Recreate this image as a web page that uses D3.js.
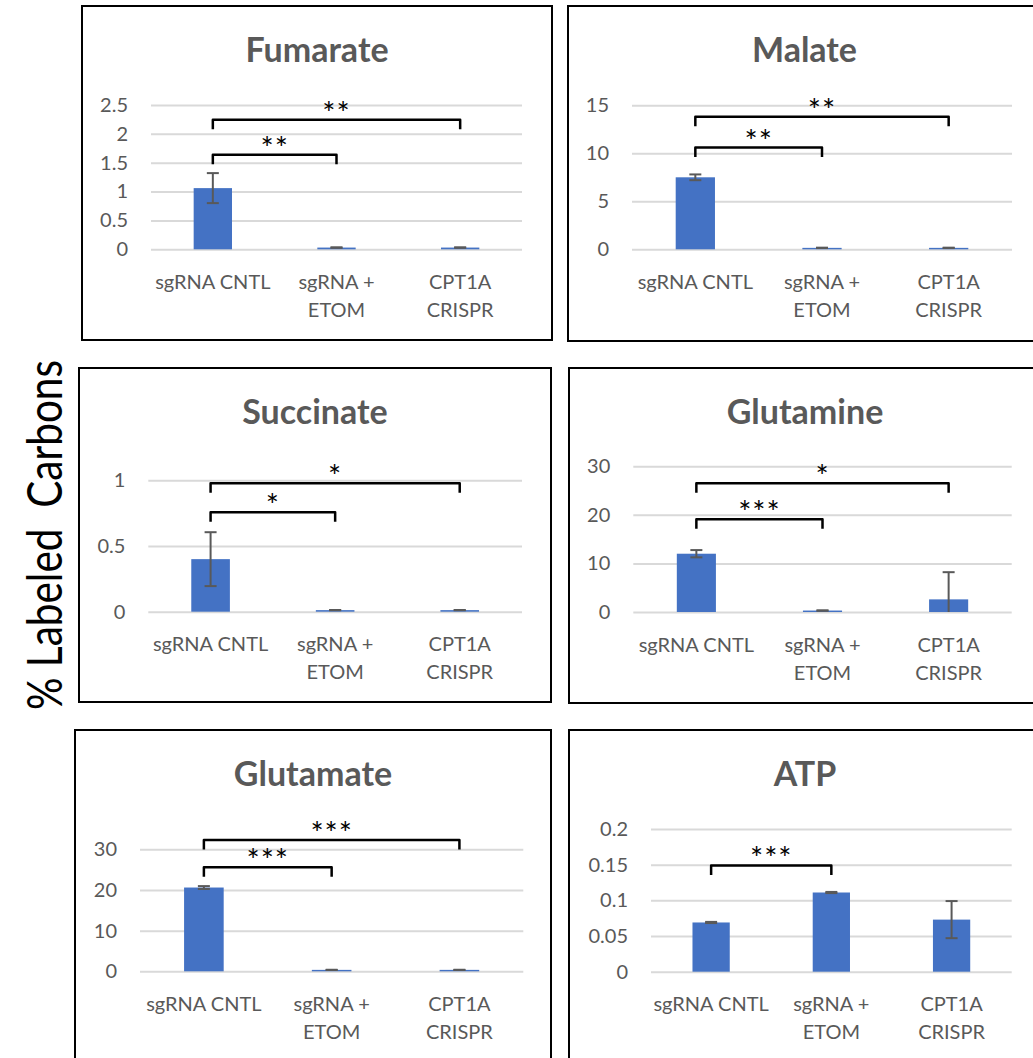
<!DOCTYPE html>
<html>
<head>
<meta charset="utf-8">
<script src="https://cdn.jsdelivr.net/npm/d3@7"></script>
<style>
  body { margin: 0; background: #fff; }
  svg { display: block; }
  text { font-family: Lato, "Open Sans", sans-serif; }
</style>
</head>
<body>
<svg id="chart" width="1033" height="1058"></svg>
<script>
// Groups on the x axis (each split over one or two lines)
const groups = ["sgRNA CNTL", "sgRNA + ETOM", "CPT1A CRISPR"];
const groupLines = [["sgRNA CNTL"], ["sgRNA +", "ETOM"], ["CPT1A", "CRISPR"]];

// Mean % labeled carbons and error for each metabolite
const fumarateMeans = [1.06, 0.03, 0.03];
const fumarateErrors = [0.26, 0.004, 0.004];
const malateMeans = [7.5, 0.15, 0.15];
const malateErrors = [0.3, 0.02, 0.02];
const succinateMeans = [0.40, 0.012, 0.012];
const succinateErrors = [0.205, 0.001, 0.001];
const glutamineMeans = [12.0, 0.3, 2.6];
const glutamineErrors = [0.75, 0.03, 5.6];
const glutamateMeans = [20.6, 0.35, 0.35];
const glutamateErrors = [0.35, 0.02, 0.02];
const atpMeans = [0.069, 0.111, 0.073];
const atpErrors = [0.0008, 0.0008, 0.026];

// Y tick values
const fumarateTicks = [0, 0.5, 1, 1.5, 2, 2.5];
const malateTicks = [0, 5, 10, 15];
const succinateTicks = [0, 0.5, 1];
const glutamineTicks = [0, 10, 20, 30];
const glutamateTicks = [0, 10, 20, 30];
const atpTicks = [0, 0.05, 0.1, 0.15, 0.2];

// Significance comparisons: [from group, to group, stars]
const fumarateSig = [[0, 1, "**"], [0, 2, "**"]];
const malateSig = [[0, 1, "**"], [0, 2, "**"]];
const succinateSig = [[0, 1, "*"], [0, 2, "*"]];
const glutamineSig = [[0, 1, "***"], [0, 2, "*"]];
const glutamateSig = [[0, 1, "***"], [0, 2, "***"]];
const atpSig = [[0, 1, "***"]];

// Panel layout: frame, plot area, axis max and bracket heights (axis units)
const panels = [
  { title: "Fumarate", means: fumarateMeans, errors: fumarateErrors, ticks: fumarateTicks, sig: fumarateSig,
    box: [82, 6, 552, 340], plot: [151, 105, 522, 249.3], yMax: 2.5, levels: [1.64, 2.245] },
  { title: "Malate", means: malateMeans, errors: malateErrors, ticks: malateTicks, sig: malateSig,
    box: [568, 6, 1041, 341], plot: [632, 105.3, 1012, 249.3], yMax: 15, levels: [10.6, 13.8] },
  { title: "Succinate", means: succinateMeans, errors: succinateErrors, ticks: succinateTicks, sig: succinateSig,
    box: [79, 368, 551, 702], plot: [148.3, 480.3, 522, 611.7], yMax: 1, levels: [0.756, 0.977] },
  { title: "Glutamine", means: glutamineMeans, errors: glutamineErrors, ticks: glutamineTicks, sig: glutamineSig,
    box: [569, 368, 1041, 703], plot: [633.3, 466.3, 1011.7, 612], yMax: 30, levels: [19.1, 26.5] },
  { title: "Glutamate", means: glutamateMeans, errors: glutamateErrors, ticks: glutamateTicks, sig: glutamateSig,
    box: [75, 730, 551, 1070], plot: [140, 849.3, 523.3, 971.3], yMax: 30, levels: [25.6, 32.3] },
  { title: "ATP", means: atpMeans, errors: atpErrors, ticks: atpTicks, sig: atpSig,
    box: [569, 730, 1041, 1070], plot: [651, 829, 1011.7, 971.7], yMax: 0.2, levels: [0.149] }
];

const BAR = "#4472C4";
const GRID = "#D9D9D9";
const TEXT = "#595959";

const svg = d3.select("#chart");

panels.forEach(p => {
  const g = svg.append("g");
  const [bx0, by0, bx1, by1] = p.box;
  const [px0, py0, px1, py1] = p.plot;

  // frame
  g.append("rect")
    .attr("x", bx0).attr("y", by0)
    .attr("width", bx1 - bx0).attr("height", by1 - by0)
    .attr("fill", "#fff").attr("stroke", "#000").attr("stroke-width", 2);

  // title
  g.append("text")
    .attr("x", (bx0 + bx1) / 2).attr("y", by0 + 56)
    .attr("text-anchor", "middle")
    .attr("font-size", 34).attr("font-weight", 700)
    .attr("fill", TEXT)
    .text(p.title);

  const x = d3.scaleBand().domain(d3.range(groups.length)).range([px0, px1])
    .paddingInner(0.69).paddingOuter(0.345);
  const y = d3.scaleLinear().domain([0, p.yMax]).range([py1, py0]);

  // gridlines + tick labels
  const yAxis = d3.axisLeft(y).tickValues(p.ticks).tickSize(-(px1 - px0)).tickPadding(23)
    .tickFormat(d => String(d));
  const ax = g.append("g").attr("transform", `translate(${px0},0)`).call(yAxis);
  ax.select(".domain").remove();
  ax.selectAll(".tick line").attr("stroke", GRID).attr("stroke-width", 2);
  ax.selectAll(".tick text").attr("fill", TEXT).attr("font-size", 20)
    .attr("font-family", "Lato, 'Open Sans', sans-serif");

  // bars
  g.selectAll(".bar").data(p.means).join("rect")
    .attr("x", (d, i) => x(i)).attr("width", x.bandwidth())
    .attr("y", d => y(d)).attr("height", d => y(0) - y(d))
    .attr("fill", BAR);

  // error bars
  const eb = g.selectAll(".err").data(p.means.map((m, i) => ({ m, e: p.errors[i], i }))).join("g");
  eb.append("line")
    .attr("x1", d => x(d.i) + x.bandwidth() / 2).attr("x2", d => x(d.i) + x.bandwidth() / 2)
    .attr("y1", d => y(Math.max(0, d.m - d.e))).attr("y2", d => y(d.m + d.e))
    .attr("stroke", TEXT).attr("stroke-width", 2);
  eb.append("line")
    .attr("x1", d => x(d.i) + x.bandwidth() / 2 - 6).attr("x2", d => x(d.i) + x.bandwidth() / 2 + 6)
    .attr("y1", d => y(d.m + d.e)).attr("y2", d => y(d.m + d.e))
    .attr("stroke", TEXT).attr("stroke-width", 2);
  eb.filter(d => d.m - d.e >= 0).append("line")
    .attr("x1", d => x(d.i) + x.bandwidth() / 2 - 6).attr("x2", d => x(d.i) + x.bandwidth() / 2 + 6)
    .attr("y1", d => y(d.m - d.e)).attr("y2", d => y(d.m - d.e))
    .attr("stroke", TEXT).attr("stroke-width", 2);

  // x category labels
  groupLines.forEach((lines, i) => {
    const t = g.append("text")
      .attr("text-anchor", "middle").attr("font-size", 20).attr("fill", TEXT);
    lines.forEach((ln, k) => {
      t.append("tspan")
        .attr("x", x(i) + x.bandwidth() / 2)
        .attr("y", py1 + 39.5 + k * 28)
        .text(ln);
    });
  });

  // significance brackets
  p.sig.forEach(([a, b, stars], k) => {
    const xa = x(a) + x.bandwidth() / 2;
    const xb = x(b) + x.bandwidth() / 2;
    const yl = y(p.levels[k]);
    g.append("path")
      .attr("d", `M${xa},${yl + 9.5}V${yl}H${xb}V${yl + 9.5}`)
      .attr("fill", "none").attr("stroke", "#000").attr("stroke-width", 2.5)
      .attr("stroke-linejoin", "round");
    g.append("text")
      .attr("x", (xa + xb) / 2).attr("y", yl + 4)
      .attr("text-anchor", "middle").attr("font-size", 31)
      .attr("font-family", "'DejaVu Sans', sans-serif")
      .attr("letter-spacing", 1)
      .attr("fill", "#000")
      .text(stars);
  });
});

// shared y axis title
svg.append("text")
  .attr("transform", "translate(62,535) rotate(-90)")
  .attr("text-anchor", "middle")
  .attr("font-size", 48)
  .attr("fill", "#000")
  .attr("font-family", "'Open Sans', Lato, sans-serif")
  .attr("textLength", 350)
  .attr("lengthAdjust", "spacingAndGlyphs")
  .style("white-space", "pre")
  .text("% Labeled  Carbons");
</script>
</body>
</html>
